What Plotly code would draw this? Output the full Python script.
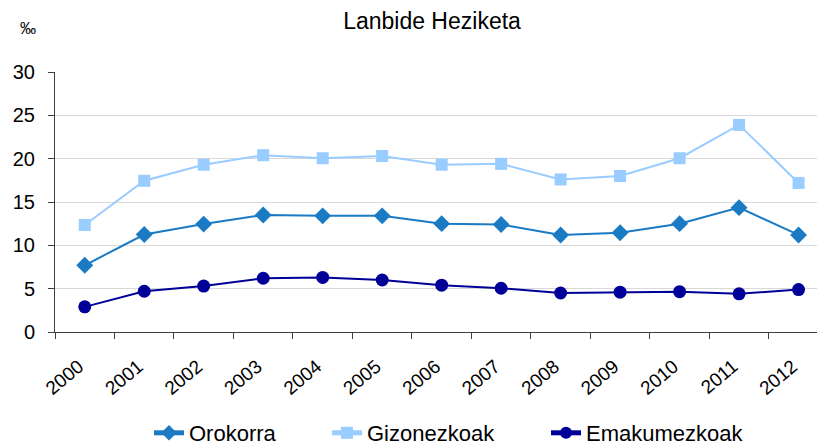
import plotly.graph_objects as go

years = ["2000", "2001", "2002", "2003", "2004", "2005", "2006", "2007", "2008", "2009", "2010", "2011", "2012"]
orokorra = [7.7, 11.25, 12.45, 13.5, 13.4, 13.4, 12.5, 12.4, 11.2, 11.45, 12.5, 14.35, 11.2]
gizonezkoak = [12.35, 17.45, 19.3, 20.4, 20.05, 20.3, 19.3, 19.4, 17.6, 18.0, 20.05, 23.9, 17.2]
emakumezkoak = [2.9, 4.7, 5.3, 6.2, 6.3, 6.0, 5.4, 5.05, 4.5, 4.6, 4.65, 4.4, 4.9]
y_ticks = [0, 5, 10, 15, 20, 25, 30]

FONT = "Liberation Sans, Arial, sans-serif"
W, H = 817, 446
ML, MT = 55, 72
PW, PH = W - ML, H - MT


def px_x(px):
    return (px - ML) / PW


def px_y(py):
    return (H - py) / PH


fig = go.Figure()
fig.add_trace(go.Scatter(x=years, y=orokorra, name="Orokorra", mode="lines+markers",
                         line=dict(color="#1A7AC4", width=2),
                         marker=dict(symbol="diamond", size=13, color="#1A7AC4"),
                         legend="legend"))
fig.add_trace(go.Scatter(x=years, y=gizonezkoak, name="Gizonezkoak", mode="lines+markers",
                         line=dict(color="#99CCFF", width=2),
                         marker=dict(symbol="square", size=12, color="#99CCFF"),
                         legend="legend2"))
fig.add_trace(go.Scatter(x=years, y=emakumezkoak, name="Emakumezkoak", mode="lines+markers",
                         line=dict(color="#000099", width=2),
                         marker=dict(symbol="circle", size=13, color="#000099"),
                         legend="legend3"))


def leg(x_px):
    return dict(orientation="h", x=px_x(x_px), xanchor="left", y=px_y(433), yanchor="middle",
                font=dict(size=22, family=FONT, color="black"), bgcolor="rgba(0,0,0,0)",
                borderwidth=0, itemsizing="constant")


fig.update_layout(
    width=W, height=H,
    margin=dict(l=ML, r=0, t=MT, b=0, autoexpand=False),
    paper_bgcolor="white", plot_bgcolor="white",
    font=dict(family=FONT, color="black"),
    title=dict(text="Lanbide Heziketa", x=432 / W, xanchor="center", y=1 - 21 / H, yanchor="middle",
               font=dict(size=23, family=FONT, color="black")),
    showlegend=True,
    legend=leg(149),
    legend2=leg(327),
    legend3=leg(546),
    xaxis=dict(type="category", range=[-0.5, 12.31], showgrid=False, automargin=False,
               showline=True, linecolor="#404040", linewidth=1,
               ticks="outside", ticklen=6, tickcolor="#404040", tickson="boundaries",
               tickangle=-40, ticklabelstandoff=15, ticklabelshift=-6,
               tickfont=dict(size=19, family=FONT, color="black")),
    yaxis=dict(range=[0, 30], tickvals=y_ticks, showgrid=True, gridcolor="#D9D9D9", gridwidth=1,
               domain=[px_y(332), 1], automargin=False,
               showline=True, linecolor="#404040", linewidth=1,
               ticks="outside", ticklen=6, tickcolor="#404040", ticklabelstandoff=9,
               tickfont=dict(size=20, family=FONT, color="black"), zeroline=False),
    annotations=[dict(text="‰", x=px_x(28), y=px_y(29), xref="paper", yref="paper",
                      xanchor="center", yanchor="middle", showarrow=False,
                      font=dict(size=16, family=FONT, color="black"))],
)

fig.write_html("out.html", config={"displayModeBar": False},
               post_script="document.body.style.margin='0';document.body.style.overflow='hidden';")
